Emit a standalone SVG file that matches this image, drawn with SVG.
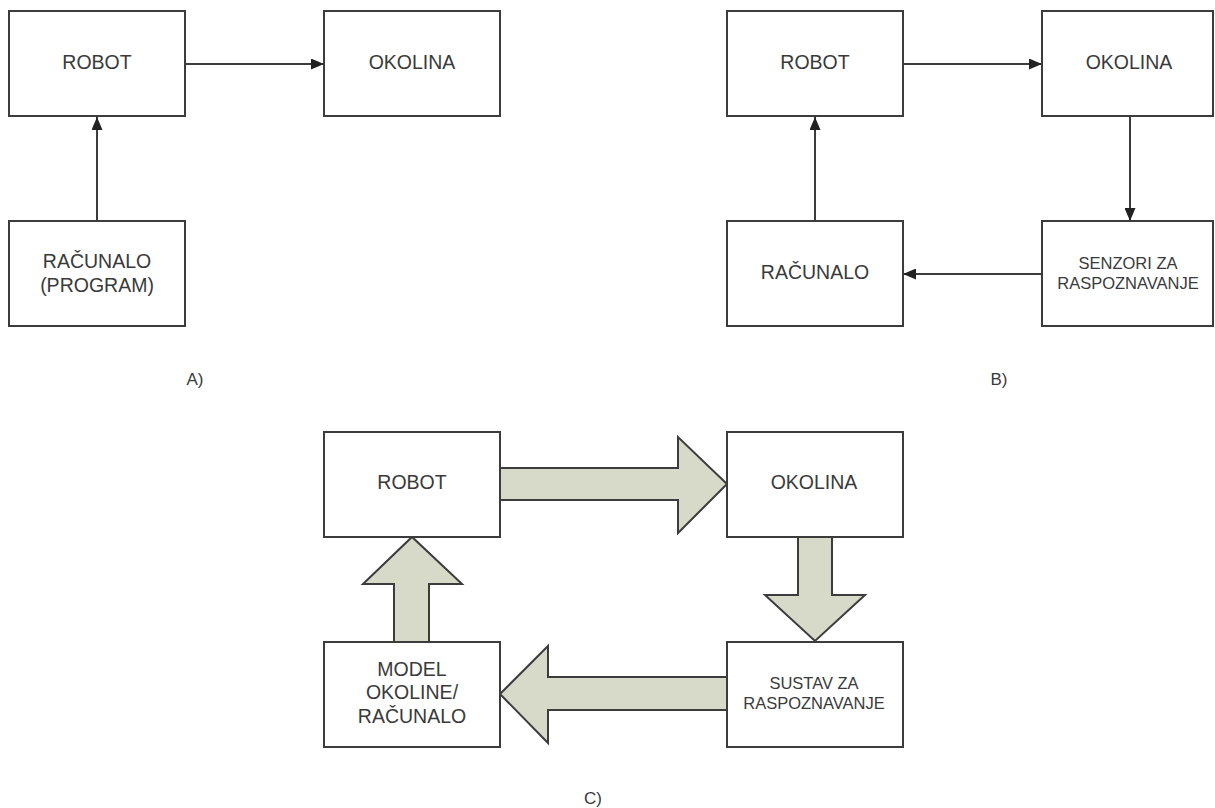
<svg xmlns="http://www.w3.org/2000/svg" width="1215" height="808" viewBox="0 0 1215 808">
<defs>
<style>
.box{fill:#fff;stroke:#3c3c3c;stroke-width:2}
.t{font-family:"Liberation Sans",Arial,sans-serif;font-size:19.5px;fill:#3a3a3a;text-anchor:middle}
.s{font-size:16.5px}
.lbl{font-size:17px}
.ln{stroke:#3c3c3c;stroke-width:2;fill:none;marker-end:url(#ah)}
.big{fill:#d7dac8;stroke:#3c3c3c;stroke-width:2;stroke-linejoin:miter}
</style>
<marker id="ah" viewBox="0 0 13 11" refX="13" refY="5.5" markerWidth="13" markerHeight="11" markerUnits="userSpaceOnUse" orient="auto">
<path d="M0,0 L13,5.5 L0,11 Z" fill="#222"/>
</marker>
</defs>
<rect width="1215" height="808" fill="#fff"/>

<g id="connectors">
<line class="ln" x1="185" y1="64" x2="324" y2="64"/>
<line class="ln" x1="97" y1="221" x2="97" y2="117"/>
<line class="ln" x1="903" y1="64" x2="1042" y2="64"/>
<line class="ln" x1="1130" y1="116" x2="1130" y2="221"/>
<line class="ln" x1="1042" y1="274" x2="903" y2="274"/>
<line class="ln" x1="815" y1="221" x2="815" y2="117"/>
<polygon class="big" points="500,468 678,468 678,437 727,484 678,533 678,500 500,500"/>
<polygon class="big" points="798,537 832,537 832,595 865,595 815,641 765,595 798,595"/>
<polygon class="big" points="727,677 548,677 548,646 500,694 548,743 548,710 727,710"/>
<polygon class="big" points="394,642 394,584 363,584 412,537 462,584 429,584 429,642"/>
</g>

<g id="a-robot"><rect class="box" x="9" y="11" width="176" height="105"/><text class="t" x="97" y="69">ROBOT</text></g>
<g id="a-okolina"><rect class="box" x="324" y="11" width="176" height="105"/><text class="t" x="412" y="69">OKOLINA</text></g>
<g id="a-racunalo"><rect class="box" x="9" y="221" width="176" height="105"/><text class="t" x="97" y="268">RAČUNALO</text><text class="t" x="97" y="292">(PROGRAM)</text></g>
<text class="t lbl" x="195" y="385">A)</text>

<g id="b-robot"><rect class="box" x="727" y="11" width="176" height="105"/><text class="t" x="815" y="69">ROBOT</text></g>
<g id="b-okolina"><rect class="box" x="1042" y="11" width="171" height="105"/><text class="t" x="1129" y="69">OKOLINA</text></g>
<g id="b-senzori"><rect class="box" x="1042" y="221" width="171" height="105"/><text class="t s" x="1128" y="269">SENZORI ZA</text><text class="t s" x="1128" y="289">RASPOZNAVANJE</text></g>
<g id="b-racunalo"><rect class="box" x="727" y="221" width="176" height="105"/><text class="t" x="815" y="279">RAČUNALO</text></g>
<text class="t lbl" x="999" y="385">B)</text>

<g id="c-robot"><rect class="box" x="324" y="432" width="176" height="105"/><text class="t" x="412" y="489">ROBOT</text></g>
<g id="c-okolina"><rect class="box" x="727" y="432" width="176" height="105"/><text class="t" x="814" y="489">OKOLINA</text></g>
<g id="c-sustav"><rect class="box" x="727" y="642" width="176" height="105"/><text class="t s" x="814" y="689">SUSTAV ZA</text><text class="t s" x="814" y="709">RASPOZNAVANJE</text></g>
<g id="c-model"><rect class="box" x="324" y="642" width="176" height="105"/><text class="t" x="412" y="676">MODEL</text><text class="t" x="412" y="699">OKOLINE/</text><text class="t" x="412" y="723">RAČUNALO</text></g>
<text class="t lbl" x="593" y="804">C)</text>
</svg>
